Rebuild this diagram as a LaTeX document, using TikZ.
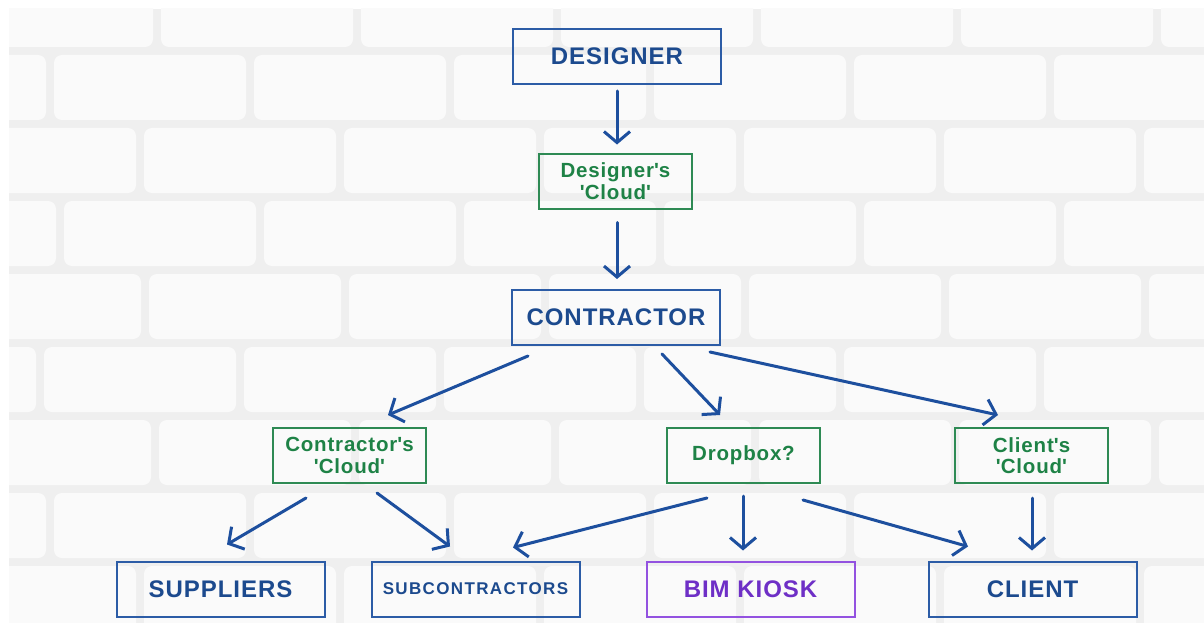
\documentclass[tikz,border=0pt]{standalone}
\usepackage{fontspec}
\setmainfont{Liberation Sans}
\usetikzlibrary{arrows.meta}
\definecolor{boxblue}{HTML}{2C5CA6}
\definecolor{txtblue}{HTML}{1C4A8E}
\definecolor{arrblue}{HTML}{1D4F9E}
\definecolor{boxgreen}{HTML}{2E8A54}
\definecolor{txtgreen}{HTML}{1E8246}
\definecolor{boxpurple}{HTML}{9352E0}
\definecolor{txtpurple}{HTML}{6E2FC6}
\definecolor{mortar}{HTML}{EFEFEF}
\definecolor{brickface}{HTML}{FAFAFA}
\newcommand{\q}{\textquotesingle}
\tikzset{
  bluebox/.style={draw=boxblue, line width=2pt, text=txtblue,
    minimum width=208pt, minimum height=55pt, inner sep=0pt,
    font=\bfseries\fontsize{24}{28}\selectfont\addfontfeature{LetterSpace=4}},
  subbox/.style={bluebox, font=\bfseries\fontsize{17}{20}\selectfont\addfontfeature{LetterSpace=8}},
  purplebox/.style={bluebox, draw=boxpurple, text=txtpurple},
  greenbox/.style={draw=boxgreen, line width=2pt, text=txtgreen, align=center,
    minimum width=153pt, minimum height=55pt, inner sep=0pt,
    font=\bfseries\fontsize{20.5}{21.5}\selectfont\addfontfeature{LetterSpace=4}},
  link/.style={draw=arrblue, line width=3pt, line cap=round,
    -{Straight Barb[length=11pt,width=26pt,line width=3pt]}},
}
\begin{document}
\begin{tikzpicture}[x=1pt,y=1pt]
\useasboundingbox (0,0) rectangle (1204,-623);
\fill[white] (0,0) rectangle (1204,-623);
% painted brick wall
\begin{scope}
  \clip (9,-9) rectangle (1204,-623);
  \fill[mortar] (9,-9) rectangle (1204,-623);
  \foreach \r/\off in {0/-43,1/-150,2/-60,3/-140,4/-55,5/-160,6/-45,7/-150,8/-60} {
    \pgfmathsetmacro{\yt}{-21+73*\r}
    \foreach \c in {-1,...,7} {
      \fill[brickface, rounded corners=8pt]
        ({\off+200*\c+4},{-\yt-3}) rectangle ({\off+200*\c+196},{-\yt-68});
    }
  }
\end{scope}

% boxes
\node[bluebox]  (des) at (617,-56.5)   {DESIGNER};
\node[greenbox] (dc)  at (615.5,-181)  {Designer\q s\\\q Cloud\q};
\node[bluebox]  (con) at (616,-317.5)  {CONTRACTOR};
\node[greenbox] (cc)  at (349.5,-455.5) {Contractor\q s\\\q Cloud\q};
\node[greenbox] (db)  at (743.5,-455.5) {Dropbox?};
\node[greenbox] (clc) at (1031.5,-455.5) {Client\q s\\\q Cloud\q};
\node[bluebox]  (sup) at (220.5,-589)  {SUPPLIERS};
\node[subbox]   (sub) at (475.5,-589)  {SUBCONTRACTORS};
\node[purplebox] (bim) at (750.5,-589) {BIM KIOSK};
\node[bluebox]  (cli) at (1032.5,-589) {CLIENT};

% connectors
\draw[link] ([yshift=-6pt]des.south) -- ([xshift=1.5pt,yshift=8pt]dc.north);
\draw[link] ([xshift=1.5pt,yshift=-13pt]dc.south) -- ([xshift=1pt,yshift=10pt]con.north);
\draw[link] ([xshift=-88pt,yshift=-10pt]con.south) -- ([xshift=38.5pt,yshift=12pt]cc.north);
\draw[link] ([xshift=46pt,yshift=-8pt]con.south) -- ([xshift=-23.5pt,yshift=12pt]db.north);
\draw[link] ([xshift=94pt,yshift=-6pt]con.south) -- ([xshift=-33.5pt,yshift=12pt]clc.north);
\draw[link] ([xshift=-43.5pt,yshift=-14pt]cc.south) -- ([xshift=6.5pt,yshift=16pt]sup.north);
\draw[link] ([xshift=27.5pt,yshift=-9pt]cc.south) -- ([xshift=-25.5pt,yshift=14pt]sub.north);
\draw[link] ([xshift=-36.5pt,yshift=-14pt]db.south) -- ([xshift=37.5pt,yshift=13pt]sub.north);
\draw[link] ([xshift=-0.5pt,yshift=-12pt]db.south) -- ([xshift=-7.5pt,yshift=10pt]bim.north);
\draw[link] ([xshift=59.5pt,yshift=-16pt]db.south) -- ([xshift=-64.5pt,yshift=14pt]cli.north);
\draw[link] ([xshift=0.5pt,yshift=-14pt]clc.south) -- ([xshift=-0.5pt,yshift=10pt]cli.north);
\end{tikzpicture}
\end{document}
